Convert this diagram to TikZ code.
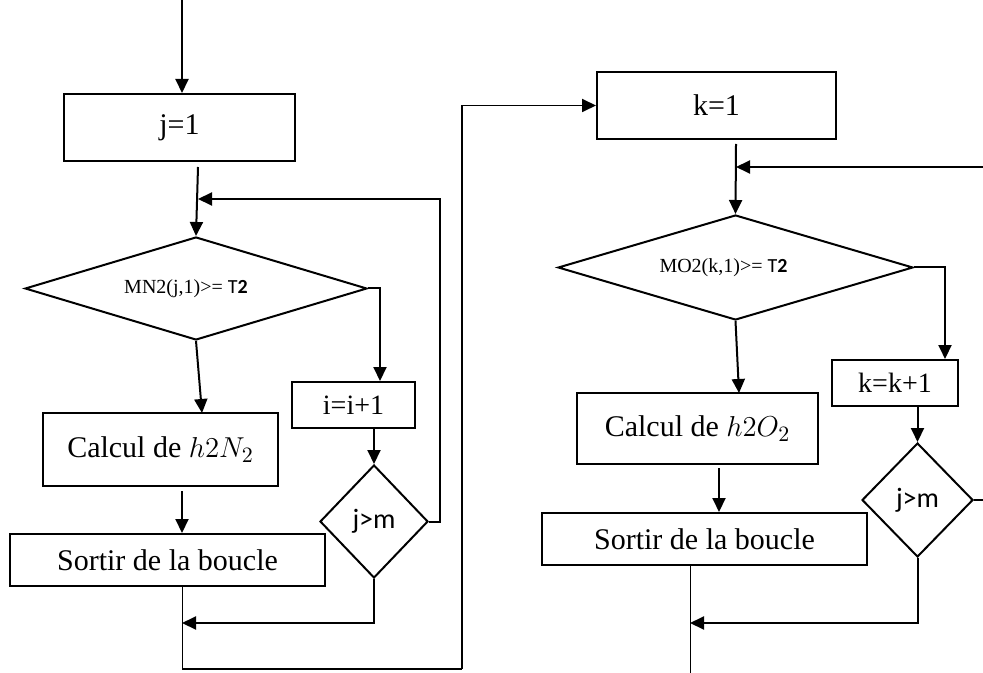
\documentclass[tikz,border=0pt]{standalone}
\usepackage{fontspec}
\setmainfont{Liberation Serif}
\newfontfamily\carl{Carlito}
\usetikzlibrary{shapes.geometric,arrows.meta}
\begin{document}
\begin{tikzpicture}[x=0.5pt,y=-0.5pt,
  line width=1pt,
  arr/.style={-{Triangle[length=7pt,width=6.5pt]}},
  thinline/.style={line width=0.5pt},
  boxnode/.style={draw,rectangle,inner sep=0pt,font=\fontsize{15}{18}\selectfont},
  decnode/.style={draw,diamond,inner sep=0pt},
]
\useasboundingbox (0,0) rectangle (983,673);
% boxes
\node[boxnode,minimum width=115.5pt,minimum height=33.5pt] (j1) at (179.5,127.5) {j=1};
\node[boxnode,minimum width=117.5pt,minimum height=36.5pt] (calc1) at (160.5,449.5) {Calcul de $h2N_2$};
\node[boxnode,minimum width=157.5pt,minimum height=26pt] (sort1) at (167.5,560) {Sortir de la boucle};
\node[boxnode,minimum width=61.5pt,minimum height=23pt,font=\fontsize{14}{16}\selectfont] (inc1) at (353.5,405) {i=i+1};
\node[boxnode,minimum width=119.5pt,minimum height=33.5pt] (k1) at (716.5,105.5) {k=1};
\node[boxnode,minimum width=120.5pt,minimum height=35.5pt] (calc2) at (697.5,428.5) {Calcul de $h2O_2$};
\node[boxnode,minimum width=162.5pt,minimum height=26pt] (sort2) at (704.5,539) {Sortir de la boucle};
\node[boxnode,minimum width=63pt,minimum height=23pt,font=\fontsize{14}{16}\selectfont] (inc2) at (895,383) {k=k+1};
% decisions
\node[decnode,aspect=3.3,minimum width=171pt,minimum height=51.5pt,font=\fontsize{10}{12}\selectfont] (d1) at (196,288.5) {\raisebox{-3pt}{MN2(j,1)>= {\carl T\textbf{2}}}\hspace*{10pt}};
\node[decnode,aspect=1,minimum width=54pt,minimum height=56.5pt,font=\carl\fontsize{14}{16}\selectfont] (t1) at (374,521.5) {j>m};
\node[decnode,aspect=3.4,minimum width=177.5pt,minimum height=52.5pt,font=\fontsize{10}{12}\selectfont] (d2) at (735.5,267.5) {\raisebox{-3pt}{MO2(k,1)>= {\carl T\textbf{2}}}\hspace*{12pt}};
\node[decnode,aspect=1,minimum width=55.5pt,minimum height=57pt,font=\carl\fontsize{14}{16}\selectfont] (t2) at (917.5,500) {j>m};
% coordinates
\coordinate (s0) at (182,0);
\coordinate (a1) at (198,167);
\coordinate (fb1) at (440,199);
\coordinate (j1a) at (198,199);
\coordinate (r1) at (380,288.5);
\coordinate (c1in) at (202,413);
\coordinate (c1out) at (182,491);
\coordinate (s1out) at (182,586);
\coordinate (b1) at (182,669);
\coordinate (up) at (462,669);
\coordinate (l1) at (374,623);
\coordinate (l1e) at (182,623);
\coordinate (k1out) at (736,144);
\coordinate (fbr) at (983,167);
\coordinate (k1a) at (736,167);
\coordinate (r2) at (945,267.5);
\coordinate (c2in) at (739,393);
\coordinate (c2out) at (719,468);
\coordinate (s2out) at (690,565);
\coordinate (bot2) at (690,673);
\coordinate (l2) at (917.5,623);
\coordinate (l2e) at (690,623);
\coordinate (t2r) at (983,500);
% left connectors
\draw[arr] (s0) -- (s0 |- j1.north);
\draw[arr] (a1) -- (d1.north);
\draw[arr] (t1.east) -| (fb1) -- (j1a);
\draw[arr] (d1.east) -- (r1) -- (r1 |- inc1.north);
\draw[arr] (inc1.south -| t1.north) -- (t1.north);
\draw[arr] (d1.south) -- (c1in);
\draw[arr] (c1out) -- (c1out |- sort1.north);
\draw[arr] (t1.south) -- (l1) -- (l1e);
\draw[thinline] (s1out) -- (b1);
\draw[line width=0.9pt] (b1) -- (up);
\draw[arr,line width=0.9pt] (up) |- (k1.west);
% right connectors
\draw[arr] (k1out) -- (d2.north);
\draw[arr] (fbr) -- (k1a);
\draw[arr] (d2.east) -- (r2) -- (r2 |- inc2.north);
\draw[arr] (inc2.south -| t2.north) -- (t2.north);
\draw (t2.east) -- (t2r);
\draw[arr] (d2.south) -- (c2in);
\draw[arr] (c2out) -- (c2out |- sort2.north);
\draw[arr] (t2.south) -- (l2) -- (l2e);
\draw[thinline] (s2out) -- (bot2);
\end{tikzpicture}
\end{document}
